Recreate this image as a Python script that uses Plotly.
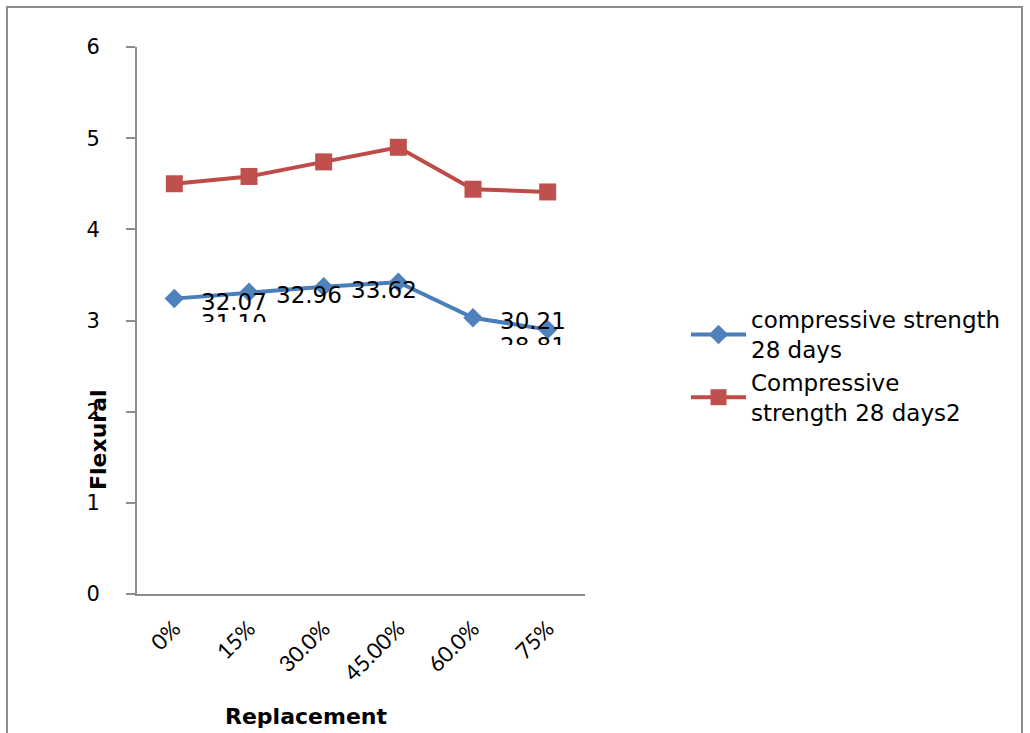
import plotly.graph_objects as go

categories = ["0%", "15%", "30.0%", "45.00%", "60.0%", "75%"]
flexural_a = [3.24, 3.31, 3.37, 3.42, 3.03, 2.90]   # compressive strength 28 days
flexural_b = [4.50, 4.58, 4.74, 4.90, 4.44, 4.41]   # Compressive strength 28 days2
labels_a = ["32.07", "32.96", "33.62", "", "30.21", ""]
labels_hidden = ["31.10", "", "", "", "28.81", ""]

blue = "#4a7ebb"
red = "#be4b48"
W, H = 1030, 733
L, R, T, B = 137, 585, 47, 594
FONT = "DejaVu Sans, Arial"

idx = list(range(len(categories)))

fig = go.Figure()
fig.add_trace(go.Scatter(
    x=idx, y=flexural_a, mode="lines+markers",
    name="compressive strength<br>28 days",
    line=dict(color=blue, width=4),
    marker=dict(symbol="diamond", size=15, color="#4f81bd"),
))
fig.add_trace(go.Scatter(
    x=idx, y=flexural_b, mode="lines+markers",
    name="Compressive<br>strength 28 days2",
    line=dict(color=red, width=4),
    marker=dict(symbol="square", size=17, color="#c0504d"),
))

annotations = []
for i, (v, t) in enumerate(zip(flexural_a, labels_a)):
    if t:
        annotations.append(dict(x=i, y=v, text=t, showarrow=False, xanchor="left",
                                yanchor="middle", xshift=25, yshift=-3,
                                font=dict(family=FONT, size=23, color="black")))
for i, (v, t) in enumerate(zip(flexural_a, labels_hidden)):
    if t:
        annotations.append(dict(x=i, y=v, text=t, showarrow=False, xanchor="left",
                                yanchor="top", xshift=25, yshift=-9 if i == 0 else -13,
                                height=12, valign="top",
                                font=dict(family=FONT, size=23, color="black")))

annotations.append(dict(xref="paper", yref="paper", x=(98 - L) / (R - L), y=(B - 440) / (B - T),
                        xanchor="center", yanchor="middle",
                        text="<b>Flexural</b>", textangle=-90, showarrow=False,
                        font=dict(family=FONT, size=22, color="black")))
annotations.append(dict(xref="paper", yref="paper", x=(306 - L) / (R - L), y=(B - 716) / (B - T),
                        xanchor="center", yanchor="middle",
                        text="<b>Replacement</b>", showarrow=False,
                        font=dict(family=FONT, size=22, color="black")))

fig.update_layout(
    width=W, height=H,
    margin=dict(l=L, r=W - R, t=T, b=H - B, pad=0),
    paper_bgcolor="white", plot_bgcolor="white",
    showlegend=True,
    legend=dict(x=(686 - L) / (R - L), y=(B - 298) / (B - T), xanchor="left", yanchor="top",
                font=dict(family=FONT, size=23, color="black"),
                itemwidth=55, tracegroupgap=17, bgcolor="rgba(0,0,0,0)"),
    annotations=annotations,
    shapes=[dict(type="rect", xref="paper", yref="paper",
                 x0=(7 - L) / (R - L), x1=(1022 - L) / (R - L),
                 y0=(B - 745) / (B - T), y1=(B - 7) / (B - T),
                 line=dict(color="#8c8c8c", width=2), fillcolor="rgba(0,0,0,0)", layer="below")],
    xaxis=dict(range=[-0.5, len(categories) - 0.5], tickvals=idx, ticktext=categories,
               tickangle=-45, showgrid=False, zeroline=False, showline=True,
               linecolor="#8c8c8c", linewidth=2, ticks="", ticklabelstandoff=11,
               tickfont=dict(family="Lato, Carlito, Calibri", size=22, color="black")),
    yaxis=dict(range=[0, 6], dtick=1, showgrid=False, zeroline=False, showline=True,
               linecolor="#8c8c8c", linewidth=2, ticks="outside", ticklen=9,
               tickcolor="#8c8c8c", tickwidth=2, ticklabelstandoff=22,
               tickfont=dict(family=FONT, size=21, color="black")),
)

fig.write_html("out.html", config={"displayModeBar": False},
               post_script="document.body.style.margin='0';")
